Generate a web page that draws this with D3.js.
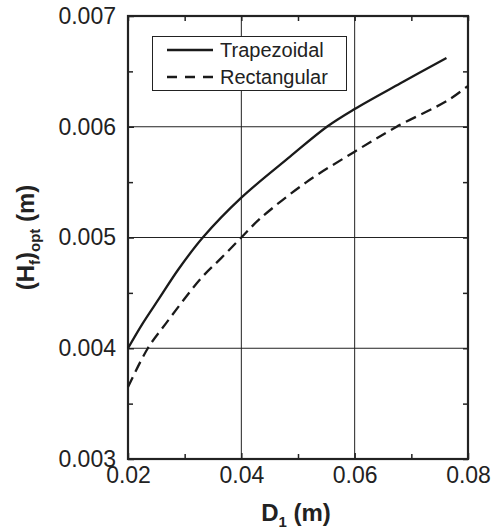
<!DOCTYPE html>
<html lang="en">
<head>
    <meta charset="UTF-8" />
    <title>Hf opt vs D1</title>
    <script src="https://d3js.org/d3.v7.min.js"></script>
    <style>
        body { margin: 0; background: #fff; }
        text { font-family: "Liberation Sans", Arial, sans-serif; fill: #222; }
    </style>
</head>
<body>
<script>
    // data
    var trapD = [0.02, 0.0226, 0.0255, 0.029, 0.0332, 0.04, 0.0486, 0.0551, 0.06, 0.068, 0.0762];
    var trapH = [0.0040, 0.004225, 0.00445, 0.00472, 0.0050, 0.00536, 0.00573, 0.0060, 0.00616, 0.00639, 0.00662];
    var rectD = [0.02, 0.0235, 0.0267, 0.0329, 0.0364, 0.04, 0.0433, 0.0515, 0.06, 0.0674, 0.0765, 0.08];
    var rectH = [0.00365, 0.0040, 0.004225, 0.004632, 0.004812, 0.0050, 0.00517, 0.0055, 0.005775, 0.0060, 0.00624, 0.00637];
    var xTicks = [0.02, 0.04, 0.06, 0.08];
    var yTicks = [0.003, 0.004, 0.005, 0.006, 0.007];
    var xMinor = [0.03, 0.05, 0.07];
    var yMinor = [0.0035, 0.0045, 0.0055, 0.0065];
    var seriesNames = ["Trapezoidal", "Rectangular"];

    var w = 492, h = 532;
    var mLeft = 128, mRight = 468, mTop = 16, mBottom = 459;

    var svg = d3.select("body").append("svg")
        .attr("width", w).attr("height", h);

    var x = d3.scaleLinear().domain([0.02, 0.08]).range([mLeft, mRight]);
    var y = d3.scaleLinear().domain([0.003, 0.007]).range([mBottom, mTop]);

    // grid lines
    svg.append("g").selectAll("line").data(xTicks.slice(1, -1)).enter().append("line")
        .attr("x1", d => x(d)).attr("x2", d => x(d))
        .attr("y1", mTop).attr("y2", mBottom)
        .attr("stroke", "#222").attr("stroke-width", 1);
    svg.append("g").selectAll("line").data(yTicks.slice(1, -1)).enter().append("line")
        .attr("y1", d => y(d)).attr("y2", d => y(d))
        .attr("x1", mLeft).attr("x2", mRight)
        .attr("stroke", "#222").attr("stroke-width", 1);

    // axes, ticks pointing inward on all four sides
    function styleAxis(g) {
        g.select(".domain").remove();
        g.selectAll(".tick line").attr("stroke", "#222").attr("stroke-width", 1.5);
        g.selectAll(".tick text").style("font-size", "23px").attr("fill", "#222");
    }
    svg.append("g").attr("transform", `translate(0,${mBottom})`)
        .call(d3.axisBottom(x).tickValues(xTicks).tickSize(-6).tickPadding(12).tickFormat(d3.format(".2f")))
        .call(styleAxis)
        .call(g => g.selectAll(".tick text").attr("dy", "0.5em"));
    svg.append("g").attr("transform", `translate(0,${mBottom})`)
        .call(d3.axisBottom(x).tickValues(xMinor).tickSize(-5).tickFormat(""))
        .call(styleAxis);
    svg.append("g").attr("transform", `translate(0,${mTop})`)
        .call(d3.axisTop(x).tickValues(xTicks.concat(xMinor)).tickSize(-5).tickFormat(""))
        .call(styleAxis);
    svg.append("g").attr("transform", `translate(${mLeft},0)`)
        .call(d3.axisLeft(y).tickValues(yTicks).tickSize(-6).tickPadding(12).tickFormat(d3.format(".3f")))
        .call(styleAxis);
    svg.append("g").attr("transform", `translate(${mLeft},0)`)
        .call(d3.axisLeft(y).tickValues(yMinor).tickSize(-5).tickFormat(""))
        .call(styleAxis);
    svg.append("g").attr("transform", `translate(${mRight},0)`)
        .call(d3.axisRight(y).tickValues(yTicks.concat(yMinor)).tickSize(-5).tickFormat(""))
        .call(styleAxis);

    // frame
    svg.append("rect")
        .attr("x", mLeft).attr("y", mTop)
        .attr("width", mRight - mLeft).attr("height", mBottom - mTop)
        .attr("fill", "none").attr("stroke", "#222").attr("stroke-width", 2.2);

    // curves
    var line = d3.line().x(d => x(d[0])).y(d => y(d[1])).curve(d3.curveCatmullRom.alpha(0.5));
    svg.append("path").datum(d3.zip(trapD, trapH))
        .attr("fill", "none").attr("stroke", "#1a1a1a").attr("stroke-width", 2.3)
        .attr("d", line);
    svg.append("path").datum(d3.zip(rectD, rectH))
        .attr("fill", "none").attr("stroke", "#1a1a1a").attr("stroke-width", 2.3)
        .attr("stroke-dasharray", "11,6")
        .attr("d", line);

    // legend
    var lg = svg.append("g");
    lg.append("rect").attr("x", 152.5).attr("y", 36.5).attr("width", 194).attr("height", 54)
        .attr("fill", "#fff").attr("stroke", "#222").attr("stroke-width", 1);
    seriesNames.forEach(function (name, i) {
        var ly = 50 + i * 27;
        lg.append("line").attr("x1", 167).attr("x2", 213).attr("y1", ly).attr("y2", ly)
            .attr("stroke", "#1a1a1a").attr("stroke-width", 2.3)
            .attr("stroke-dasharray", i === 1 ? "10,8" : null);
        lg.append("text").attr("x", 220).attr("y", ly).attr("dy", "0.35em")
            .style("font-size", "20px").text(name);
    });

    // axis titles
    var xt = svg.append("text").attr("x", (mLeft + mRight) / 2 - 2).attr("y", 521)
        .attr("text-anchor", "middle").style("font-size", "24px").style("font-weight", "bold");
    xt.append("tspan").text("D");
    xt.append("tspan").attr("dy", 6).style("font-size", "15px").text("1");
    xt.append("tspan").attr("dy", -6).text(" (m)");

    var yt = svg.append("text").attr("transform", `translate(34,${(mTop + mBottom) / 2}) rotate(-90)`)
        .attr("text-anchor", "middle").style("font-size", "24px").style("font-weight", "bold");
    yt.append("tspan").text("(H");
    yt.append("tspan").attr("dy", 6).style("font-size", "15px").text("f");
    yt.append("tspan").attr("dy", -6).text(")");
    yt.append("tspan").attr("dy", 6).style("font-size", "15px").text("opt");
    yt.append("tspan").attr("dy", -6).text(" (m)");
</script>
</body>
</html>
